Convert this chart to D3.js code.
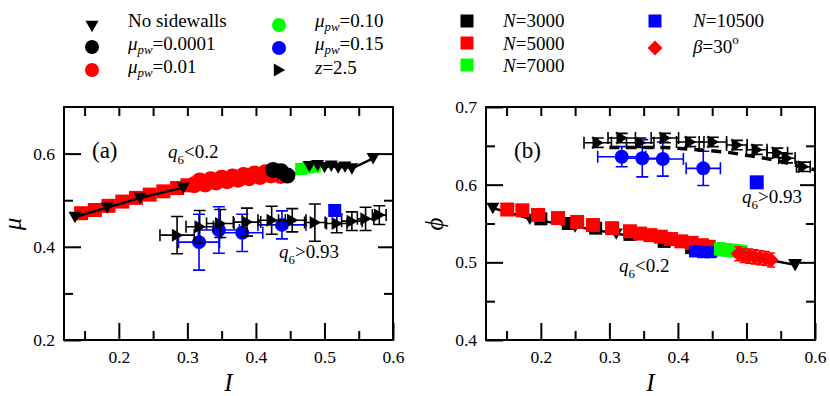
<!DOCTYPE html>
<html>
<head>
<meta charset="utf-8">
<script src="https://cdn.jsdelivr.net/npm/d3@7"></script>
<style>
body{margin:0;background:#fff;}
svg{font-family:"Liberation Serif","DejaVu Serif","Times New Roman",serif;}
</style>
</head>
<body>
<svg id="chart" width="830" height="396"></svg>
<script>
// ticks
const xMajor = [0.2, 0.3, 0.4, 0.5, 0.6];
const xMinor = [0.15, 0.25, 0.35, 0.45, 0.55];
const muMajor = [0.2, 0.4, 0.6];
const muMinor = [0.3, 0.5];
const phiMajor = [0.4, 0.5, 0.6, 0.7];
const phiMinor = [0.45, 0.55, 0.65];

// panel (a): [I, mu, dI, dmu]
const aNoWalls = [[0.136,0.464],[0.183,0.484],[0.231,0.505],[0.294,0.527],[0.445,0.549],[0.478,0.573],[0.49,0.575],[0.50,0.571],[0.51,0.574],[0.52,0.570],[0.53,0.572],[0.54,0.568],[0.571,0.590]];
const aN5000 = [[0.145,0.472,0,0.012],[0.165,0.479,0,0.012],[0.185,0.488,0,0.012],[0.205,0.497,0,0.012],[0.225,0.505,0,0.012],[0.245,0.512,0,0.012],[0.265,0.519,0,0.012],[0.285,0.526,0,0.012],[0.30,0.532,0,0.012]];
const aPw001 = [[0.31,0.533],[0.318,0.541],[0.326,0.535],[0.334,0.544],[0.342,0.539],[0.35,0.547],[0.358,0.542],[0.366,0.550],[0.374,0.545],[0.382,0.553],[0.39,0.548],[0.398,0.556],[0.406,0.551],[0.414,0.559],[0.422,0.554],[0.43,0.561],[0.436,0.553]];
const aPw00001 = [[0.425,0.565],[0.437,0.562],[0.446,0.553]];
const aN7000 = [[0.466,0.567,0,0.01],[0.476,0.570,0,0.01],[0.486,0.572,0,0.01]];
const aPw015 = [[0.317,0.41,0.03,0.06],[0.346,0.436,0.03,0.05],[0.38,0.43,0.03,0.04],[0.438,0.447,0.035,0.03]];
const aN10500 = [[0.515,0.478,0.006,0.012]];
const aZ25 = [[0.285,0.425,0.025,0.04],[0.318,0.443,0.02,0.035],[0.348,0.45,0.02,0.03],[0.387,0.453,0.02,0.03],[0.423,0.457,0.02,0.03],[0.453,0.457,0.02,0.025],[0.486,0.452,0.015,0.04],[0.518,0.45,0.015,0.02],[0.54,0.455,0.015,0.02],[0.56,0.46,0.012,0.025],[0.58,0.468,0.01,0.02]];

// panel (b): [I, phi, dI, dphi]
const bNoWalls = [[0.13,0.570],[0.184,0.556],[0.25,0.546],[0.31,0.537],[0.374,0.527],[0.44,0.517],[0.50,0.508],[0.571,0.497]];
const bN3000 = [[0.20,0.556],[0.24,0.550],[0.28,0.544],[0.33,0.536],[0.38,0.527],[0.42,0.519],[0.45,0.516]];
const bN5000 = [[0.151,0.568,0,0.006],[0.173,0.567,0,0.006],[0.196,0.561,0,0.006],[0.225,0.557,0,0.006],[0.253,0.552,0,0.006],[0.276,0.548,0,0.006],[0.304,0.544,0,0.006],[0.33,0.540,0,0.006],[0.345,0.537,0,0.006],[0.36,0.535,0,0.006],[0.375,0.533,0,0.006],[0.39,0.530,0,0.006],[0.405,0.527,0,0.006],[0.42,0.525,0,0.006],[0.435,0.522,0,0.006],[0.445,0.520,0,0.006]];
const bN10500 = [[0.425,0.514],[0.437,0.513],[0.448,0.513]];
const bN7000 = [[0.462,0.517,0,0.008],[0.472,0.516,0,0.008],[0.482,0.515,0,0.008],[0.492,0.514,0,0.008]];
const bBeta30 = [[0.488,0.511,0,0.009],[0.496,0.509,0,0.009],[0.504,0.508,0,0.009],[0.512,0.507,0,0.009],[0.52,0.506,0,0.009],[0.528,0.505,0,0.009],[0.536,0.503,0,0.009]];
const bPw015 = [[0.318,0.636,0.035,0.013],[0.348,0.634,0.03,0.024],[0.378,0.633,0.03,0.022],[0.437,0.621,0.025,0.022]];
const bN10500Crystal = [[0.515,0.603]];
const bZ25 = [[0.283,0.654,0.02,0.006],[0.318,0.660,0.02,0.006],[0.345,0.654,0.02,0.006],[0.381,0.660,0.02,0.006],[0.418,0.655,0.02,0.006],[0.451,0.655,0.02,0.006],[0.486,0.651,0.015,0.006],[0.515,0.645,0.015,0.006],[0.545,0.641,0.015,0.006],[0.559,0.634,0.012,0.006],[0.583,0.623,0.01,0.006]];
const bZ25Dashed = [[0.30,0.648],[0.38,0.648],[0.43,0.645],[0.47,0.642],[0.50,0.638],[0.54,0.632],[0.60,0.619]];

const svg = d3.select('#chart');
const FONT = '"Liberation Serif","DejaVu Serif","Times New Roman",serif';
const BLACK = '#000', RED = '#ff0000', GREEN = '#00ff00', BLUE = '#0000ff';

function markerPath(shape, s) {
  if (shape === 'tdown') return `M${-s},${-s*0.8}L${s},${-s*0.8}L0,${s*0.95}Z`;
  if (shape === 'tright') return `M${-s*0.8},${-s}L${s*0.95},0L${-s*0.8},${s}Z`;
  if (shape === 'square') return `M${-s},${-s}H${s}V${s}H${-s}Z`;
  if (shape === 'diamond') return `M0,${-s}L${s},0L0,${s}L${-s},0Z`;
}

function points(g, x, y, data, shape, color, s) {
  if (shape === 'circle') {
    g.append('g').selectAll('circle').data(data).join('circle')
      .attr('cx', d => x(d[0])).attr('cy', d => y(d[1])).attr('r', s).attr('fill', color);
  } else {
    g.append('g').selectAll('path').data(data).join('path')
      .attr('transform', d => `translate(${x(d[0])},${y(d[1])})`)
      .attr('d', markerPath(shape, s)).attr('fill', color);
  }
}

function errors(g, x, y, data, color, cap) {
  g.append('g').selectAll('path').data(data.filter(d => d.length > 2)).join('path')
    .attr('d', d => {
      const px = x(d[0]), py = y(d[1]);
      let p = '';
      if (d[2]) {
        const x0 = x(d[0] - d[2]), x1 = x(d[0] + d[2]);
        p += `M${x0},${py}H${x1}M${x0},${py-cap}V${py+cap}M${x1},${py-cap}V${py+cap}`;
      }
      if (d[3]) {
        const y0 = y(d[1] - d[3]), y1 = y(d[1] + d[3]);
        p += `M${px},${y0}V${y1}M${px-cap},${y0}H${px+cap}M${px-cap},${y1}H${px+cap}`;
      }
      return p;
    })
    .attr('fill', 'none').attr('stroke', color).attr('stroke-width', 1.6);
}

function line(g, x, y, data, dash, w) {
  g.append('path').datum(data)
    .attr('d', d3.line().x(d => x(d[0])).y(d => y(d[1])))
    .attr('fill', 'none').attr('stroke', BLACK).attr('stroke-width', w)
    .attr('stroke-dasharray', dash || null);
}

function rich(sel, parts, size) {
  parts.forEach(p => {
    const t = sel.append('tspan').text(p.t).attr('font-size', p.sub || p.sup ? size * 0.68 : size);
    if (p.i) t.attr('font-style', 'italic');
    if (p.dy) t.attr('dy', p.dy);
  });
}

function frame(cfg) {
  const g = svg.append('g');
  const x = d3.scaleLinear().domain([0.12, 0.6]).range([cfg.left, cfg.right]);
  const y = d3.scaleLinear().domain(cfg.yDom).range([340, 107]);
  const fmt = d3.format('.1f');
  const style = s => s.attr('font-family', FONT).call(a => a.select('.domain').remove())
    .call(a => a.selectAll('line').attr('stroke-width', 2))
    .call(a => a.selectAll('text').attr('font-size', 17.5).attr('fill', BLACK));
  g.append('g').attr('transform', 'translate(0,340)')
    .call(d3.axisBottom(x).tickValues(xMajor).tickSize(-17).tickPadding(11).tickFormat(fmt)).call(style);
  g.append('g').attr('transform', 'translate(0,340)')
    .call(d3.axisBottom(x).tickValues(xMinor).tickSize(-9).tickFormat('')).call(style);
  g.append('g').attr('transform', 'translate(0,107)')
    .call(d3.axisTop(x).tickValues(xMinor.concat(xMajor.slice(0, 4))).tickSize(-9).tickFormat('')).call(style);
  g.append('g').attr('transform', `translate(${cfg.left},0)`)
    .call(d3.axisLeft(y).tickValues(cfg.yMajor).tickSize(-17).tickPadding(9).tickFormat(fmt)).call(style);
  g.append('g').attr('transform', `translate(${cfg.left},0)`)
    .call(d3.axisLeft(y).tickValues(cfg.yMinor).tickSize(-9).tickFormat('')).call(style);
  g.append('g').attr('transform', `translate(${cfg.right},0)`)
    .call(d3.axisRight(y).tickValues(cfg.yMajor.filter(v => v < cfg.yDom[1] && v > cfg.yDom[0])).tickSize(-15).tickFormat('')).call(style);
  g.append('g').attr('transform', `translate(${cfg.right},0)`)
    .call(d3.axisRight(y).tickValues(cfg.yMinor).tickSize(-9).tickFormat('')).call(style);
  g.append('text').attr('x', (cfg.left + cfg.right) / 2).attr('y', 391).attr('text-anchor', 'middle')
    .attr('font-size', 25).attr('font-style', 'italic').text('I');
  g.append('text').attr('transform', `translate(${cfg.left - 43},224) rotate(-90)`).attr('text-anchor', 'middle')
    .attr('font-size', 25).attr('font-style', 'italic').text(cfg.yLabel);
  return {g, x, y};
}

function border(cfg) {
  svg.append('rect').attr('x', cfg.left).attr('y', 107).attr('width', cfg.right - cfg.left).attr('height', 233)
    .attr('fill', 'none').attr('stroke', BLACK).attr('stroke-width', 2);
}

const q6 = v => [{t:'q', i:true}, {t:'6', sub:true, dy:6}, {t:v, dy:-6}];

// ---------- panel (a)
const cfgA = {left: 64, right: 393, yDom: [0.2, 0.7], yMajor: muMajor, yMinor: muMinor, yLabel: 'μ'};
const A = frame(cfgA);
{
  const {g, x, y} = A;
  errors(g, x, y, aN5000, RED, 5);
  points(g, x, y, aN5000, 'square', RED, 7);
  line(g, x, y, aNoWalls, null, 2.5);
  points(g, x, y, aPw001, 'circle', RED, 8.5);
  points(g, x, y, aPw00001, 'circle', BLACK, 8);
  errors(g, x, y, aN7000, GREEN, 4);
  points(g, x, y, aN7000, 'square', GREEN, 6);
  points(g, x, y, aNoWalls, 'tdown', BLACK, 6.5);
  errors(g, x, y, aPw015, BLUE, 6);
  points(g, x, y, aPw015, 'circle', BLUE, 7);
  errors(g, x, y, aZ25, BLACK, 6);
  points(g, x, y, aZ25, 'tright', BLACK, 6.5);
  errors(g, x, y, aN10500, BLUE, 6);
  points(g, x, y, aN10500, 'square', BLUE, 6.5);
  g.append('text').attr('x', 92).attr('y', 158).attr('font-size', 23).text('(a)');
  rich(g.append('text').attr('x', 168).attr('y', 158), q6('<0.2'), 19);
  rich(g.append('text').attr('x', 279).attr('y', 258), q6('>0.93'), 19);
}
border(cfgA);

// ---------- panel (b)
const cfgB = {left: 486, right: 815, yDom: [0.4, 0.7], yMajor: phiMajor, yMinor: phiMinor, yLabel: 'ϕ'};
const B = frame(cfgB);
{
  const {g, x, y} = B;
  line(g, x, y, bNoWalls, null, 2.5);
  points(g, x, y, bNoWalls, 'tdown', BLACK, 6.5);
  points(g, x, y, bN3000, 'square', BLACK, 6.5);
  errors(g, x, y, bN5000, RED, 4);
  points(g, x, y, bN5000, 'square', RED, 7);
  points(g, x, y, bN10500, 'square', BLUE, 6);
  errors(g, x, y, bN7000, GREEN, 4);
  points(g, x, y, bN7000, 'square', GREEN, 6.5);
  errors(g, x, y, bBeta30, RED, 4);
  points(g, x, y, bBeta30, 'diamond', RED, 7.5);
  points(g, x, y, bNoWalls.slice(-1), 'tdown', BLACK, 7);
  errors(g, x, y, bPw015, BLUE, 6);
  points(g, x, y, bPw015, 'circle', BLUE, 7);
  line(g, x, y, bZ25Dashed, '10,7', 3.5);
  errors(g, x, y, bZ25, BLACK, 6);
  points(g, x, y, bZ25, 'tright', BLACK, 6.5);
  points(g, x, y, bN10500Crystal, 'square', BLUE, 7);
  g.append('text').attr('x', 514).attr('y', 158).attr('font-size', 23).text('(b)');
  rich(g.append('text').attr('x', 742).attr('y', 203), q6('>0.93'), 19);
  rich(g.append('text').attr('x', 619).attr('y', 272), q6('<0.2'), 19);
}
border(cfgB);

// ---------- legends
const leg = svg.append('g');
function legItem(mx, my, shape, color, s, tx, ty, parts) {
  if (shape === 'circle') leg.append('circle').attr('cx', mx).attr('cy', my).attr('r', s).attr('fill', color);
  else leg.append('path').attr('transform', `translate(${mx},${my})`).attr('d', markerPath(shape, s)).attr('fill', color);
  rich(leg.append('text').attr('x', tx).attr('y', ty), parts, 19);
}
const mupw = v => [{t:'μ', i:true}, {t:'pw', i:true, sub:true, dy:4}, {t:v, dy:-4}];
legItem(92, 26, 'tdown', BLACK, 6.5, 128, 27, [{t:'No sidewalls'}]);
legItem(92, 47, 'circle', BLACK, 7, 128, 50, mupw('=0.0001'));
legItem(92, 70, 'circle', RED, 7, 128, 73, mupw('=0.01'));
legItem(279, 25, 'circle', GREEN, 7, 315, 27, mupw('=0.10'));
legItem(279, 48, 'circle', BLUE, 7, 315, 50, mupw('=0.15'));
legItem(279, 70, 'tright', BLACK, 6.5, 315, 74, [{t:'z', i:true}, {t:'=2.5'}]);
legItem(467, 21, 'square', BLACK, 6.5, 503, 27, [{t:'N', i:true}, {t:'=3000'}]);
legItem(467, 43, 'square', RED, 6.5, 503, 50, [{t:'N', i:true}, {t:'=5000'}]);
legItem(467, 65, 'square', GREEN, 6.5, 503, 72, [{t:'N', i:true}, {t:'=7000'}]);
legItem(655, 21, 'square', BLUE, 6.5, 693, 27, [{t:'N', i:true}, {t:'=10500'}]);
legItem(655, 48, 'diamond', RED, 7.5, 693, 53, [{t:'β', i:true}, {t:'=30'}, {t:'o', sup:true, dy:-9}]);
</script>
</body>
</html>
